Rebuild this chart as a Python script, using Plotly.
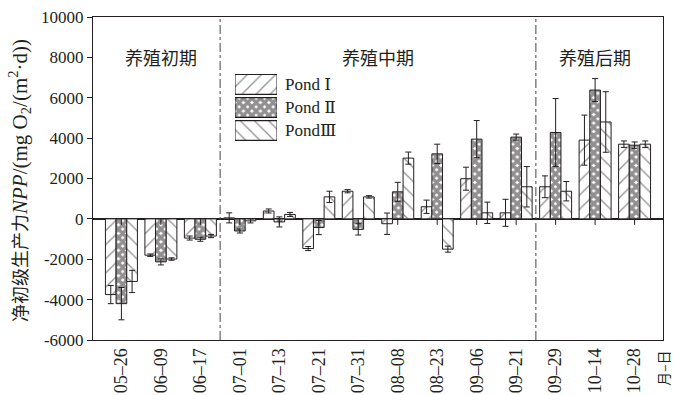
import plotly.graph_objects as go

# Sampling dates (month–day)
dates = ["05–26", "06–09", "06–17", "07–01", "07–13", "07–21", "07–31",
         "08–08", "08–23", "09–06", "09–21", "09–29", "10–14", "10–28"]

# Net primary productivity, mg O2/(m2·d)
pond1 = [-3750, -1800, -950, 50, 390, -1470, 1370, -240, 600, 1990, 300, 1590, 3900, 3700]
pond1_err = [450, 60, 100, 250, 100, 100, 80, 530, 330, 570, 670, 540, 1240, 160]
pond2 = [-4200, -2130, -1010, -600, -150, -430, -520, 1340, 3220, 3950, 4050, 4280, 6380, 3650]
pond2_err = [800, 150, 100, 100, 250, 350, 280, 470, 480, 920, 150, 1680, 570, 160]
pond3 = [-3100, -1990, -850, -100, 220, 1090, 1090, 3010, -1500, 300, 1590, 1370, 4800, 3700]
pond3_err = [550, 60, 80, 100, 100, 280, 60, 300, 150, 530, 1000, 480, 1500, 160]

series_names = ["Pond Ⅰ", "Pond Ⅱ", "PondⅢ"]
series_values = [pond1, pond2, pond3]
series_errors = [pond1_err, pond2_err, pond3_err]

# Culture stages: (label, first index, last index)
stages = [("养殖初期", 0, 2), ("养殖中期", 3, 10), ("养殖后期", 11, 13)]

y_ticks = [-6000, -4000, -2000, 0, 2000, 4000, 6000, 8000, 10000]

INK = "#231f20"
SERIF = "Liberation Serif, DejaVu Serif, Times New Roman, serif"
CJK = "Noto Sans CJK SC, sans-serif"

patterns = [
    dict(shape="/", fgcolor=INK, bgcolor="white", size=10, solidity=0.13),
    dict(shape="x", fgcolor=INK, bgcolor="white", size=6, solidity=0.82),
    dict(shape="\\", fgcolor=INK, bgcolor="white", size=10, solidity=0.13),
]

fig = go.Figure()

for name, vals, errs, pat in zip(series_names, series_values, series_errors, patterns):
    fig.add_trace(go.Bar(
        x=dates, y=vals, name=name, showlegend=False,
        marker=dict(color="white", line=dict(color=INK, width=1), pattern=pat),
        error_y=dict(type="data", array=errs, visible=True,
                     color=INK, thickness=1, width=3),
    ))

# Legend swatches drawn as horizontal bars on a small inset axis
n = len(series_names)
for k, (name, pat) in enumerate(zip(series_names, patterns)):
    fig.add_trace(go.Bar(
        x=[1], y=[n - k - 0.5], base=0, orientation="h", width=0.86,
        xaxis="x2", yaxis="y2", showlegend=False, hoverinfo="skip",
        marker=dict(color="white", line=dict(color=INK, width=1.2), pattern=pat),
    ))
    fig.add_annotation(
        xref="x2 domain", yref="y2", x=1.13, y=n - k - 0.5,
        text=name, showarrow=False, xanchor="left", yanchor="middle",
        font=dict(family=SERIF, size=17, color=INK),
    )

shapes = []
# Stage dividers
for _, first, last in stages[1:]:
    shapes.append(dict(type="line", xref="x", yref="paper",
                       x0=first - 0.5, x1=first - 0.5, y0=0, y1=1,
                       line=dict(color="#444", width=1, dash="dashdot")))
# Category ticks hanging from the zero line
for i in range(len(dates)):
    shapes.append(dict(type="line", xref="x", yref="y", ysizemode="pixel",
                       yanchor=0, x0=i, x1=i, y0=0, y1=-6,
                       line=dict(color=INK, width=1)))

annotations = []
for label, first, last in stages:
    annotations.append(dict(xref="x", yref="paper", x=(first + last) / 2, y=0.923,
                            text=label, showarrow=False,
                            font=dict(family=CJK, size=18, color=INK)))
annotations.append(dict(
    xref="paper", yref="paper", x=-0.130, y=0.495, textangle=-90,
    text=("<span style='font-family:Noto Sans CJK SC;font-size:18px'>净初级生产力</span>"
          "<i>NPP</i>/(mg O<sub>2</sub>/(m<sup>2</sup>·d))"),
    showarrow=False, xanchor="center", yanchor="middle",
    font=dict(family=SERIF, size=21, color=INK)))
annotations.append(dict(
    xref="paper", yref="paper", x=1.0, y=-0.025, textangle=-90,
    text="月–日", showarrow=False, xanchor="center", yanchor="top",
    font=dict(family=CJK, size=14, color=INK)))

fig.update_layout(
    width=674, height=395,
    margin=dict(l=93, r=11, t=17, b=55),
    paper_bgcolor="white", plot_bgcolor="white",
    barmode="group", bargap=0.19, bargroupgap=0,
    shapes=shapes, annotations=fig.layout.annotations + tuple(annotations),
    xaxis=dict(
        type="category", range=[-0.72, len(dates) - 1 + 0.72], automargin=False,
        showline=True, mirror=True, linecolor=INK, linewidth=1,
        ticks="", tickangle=-90, showgrid=False, zeroline=False,
        tickfont=dict(family=SERIF, size=18, color=INK),
    ),
    yaxis=dict(
        range=[-6000, 10000], tickvals=y_ticks, automargin=False,
        ticktext=[str(v) for v in y_ticks],
        showline=True, mirror=True, linecolor=INK, linewidth=1,
        ticks="outside", ticklen=5, tickcolor=INK, showgrid=False,
        zeroline=True, zerolinecolor=INK, zerolinewidth=1.5,
        tickfont=dict(family=SERIF, size=17, color=INK),
    ),
    xaxis2=dict(domain=[0.249, 0.323], anchor="y2", range=[0, 1],
                visible=False, fixedrange=True),
    yaxis2=dict(domain=[0.613, 0.827], anchor="x2", range=[0, n],
                visible=False, fixedrange=True),
)

fig.write_html("out.html")
